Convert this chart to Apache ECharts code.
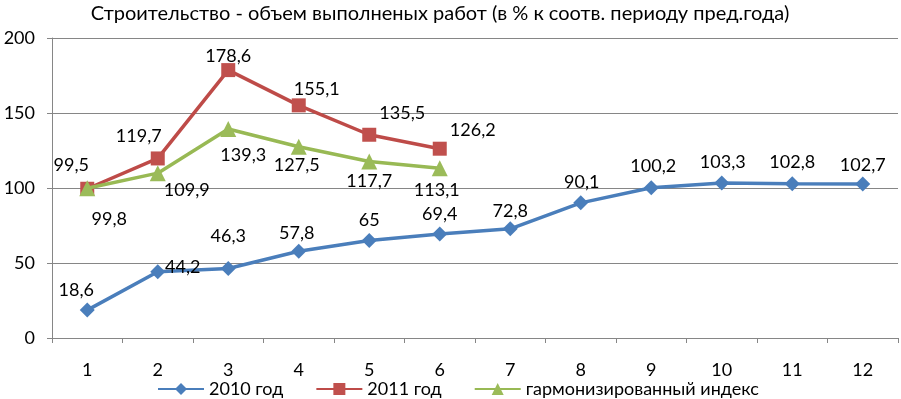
<!DOCTYPE html>
<html><head><meta charset="utf-8">
<script src="https://cdn.jsdelivr.net/npm/echarts@6/dist/echarts.min.js"></script>
<style>html,body{margin:0;padding:0;background:#fff}#c{width:901px;height:399px}</style>
</head><body><div id="c"></div>
<script>
var categories = ['1','2','3','4','5','6','7','8','9','10','11','12'];
var y2010 = [18.6, 44.2, 46.3, 57.8, 65, 69.4, 72.8, 90.1, 100.2, 103.3, 102.8, 102.7];
var y2011 = [99.5, 119.7, 178.6, 155.1, 135.5, 126.2];
var yHarm = [99.8, 109.9, 139.3, 127.5, 117.7, 113.1];
var seriesNames = ['2010 год', '2011 год', 'гармонизированный индекс'];
var titleText = 'Строительство - объем выполненых работ (в % к соотв. периоду пред.года)';

// label offsets (styling only)
var off2010 = [[-11,-20],[25,-5],[0,-32],[-2,-18],[0,-20],[0,-20],[0,-18],[1,-21],[2,-22],[1,-21],[0,-22],[0,-19]];
var off2011 = [[-16,-24],[-19,-22],[0,-14],[18,-16],[33,-22],[33,-19]];
var offHarm = [[22,31],[29,17],[15,26],[-2,18],[0,20],[-3,22]];

var FONT = 'Lato, "Open Sans", sans-serif';
function fmt(v){ return String(v).replace('.', ','); }
function build(vals, offs){
  return vals.map(function(v,i){
    return {value:v, label:{offset:offs[i]}};
  });
}
var labelBase = {show:true, position:'inside', color:'#000', fontSize:18, fontFamily:FONT,
  formatter:function(p){return fmt(p.value);}};

var chart = echarts.init(document.getElementById('c'), null, {renderer:'canvas'});
chart.setOption({
  animation:false,
  title:{text:titleText, left:435, top:-1, textAlign:'center',
    textStyle:{fontSize:20, fontWeight:'normal', color:'#000', fontFamily:FONT}},
  grid:{left:52, right:3, top:38, bottom:61, containLabel:false},
  xAxis:{type:'category', data:categories, boundaryGap:true,
    axisLine:{lineStyle:{color:'#868686'}},
    axisTick:{show:true, length:5, lineStyle:{color:'#868686'}},
    axisLabel:{color:'#000', fontSize:18, fontFamily:FONT, margin:23}},
  yAxis:{type:'value', min:0, max:200, interval:50,
    axisLine:{show:true, lineStyle:{color:'#868686'}},
    axisTick:{show:true, length:5, lineStyle:{color:'#868686'}},
    splitLine:{lineStyle:{color:'#868686'}},
    axisLabel:{color:'#000', fontSize:18, fontFamily:FONT, margin:17}},
  legend:{bottom:-4, left:152, itemWidth:46, itemHeight:15, itemGap:32,
    textStyle:{fontSize:18, color:'#000', fontFamily:FONT},
    data:seriesNames},
  series:[
    {name:seriesNames[0], type:'line', data:build(y2010, off2010), symbol:'diamond', symbolSize:15,
      lineStyle:{width:3.5, color:'#4A7EBB'}, itemStyle:{color:'#4A7EBB'}, label:labelBase, z:3},
    {name:seriesNames[1], type:'line', data:build(y2011, off2011), symbol:'rect', symbolSize:14,
      lineStyle:{width:3.5, color:'#BE4B48'}, itemStyle:{color:'#C0504D'}, label:labelBase, z:2},
    {name:seriesNames[2], type:'line', data:build(yHarm, offHarm), symbol:'triangle', symbolSize:16,
      lineStyle:{width:3.5, color:'#98B954'}, itemStyle:{color:'#9BBB59'}, label:labelBase, z:4}
  ]
});
</script></body></html>
